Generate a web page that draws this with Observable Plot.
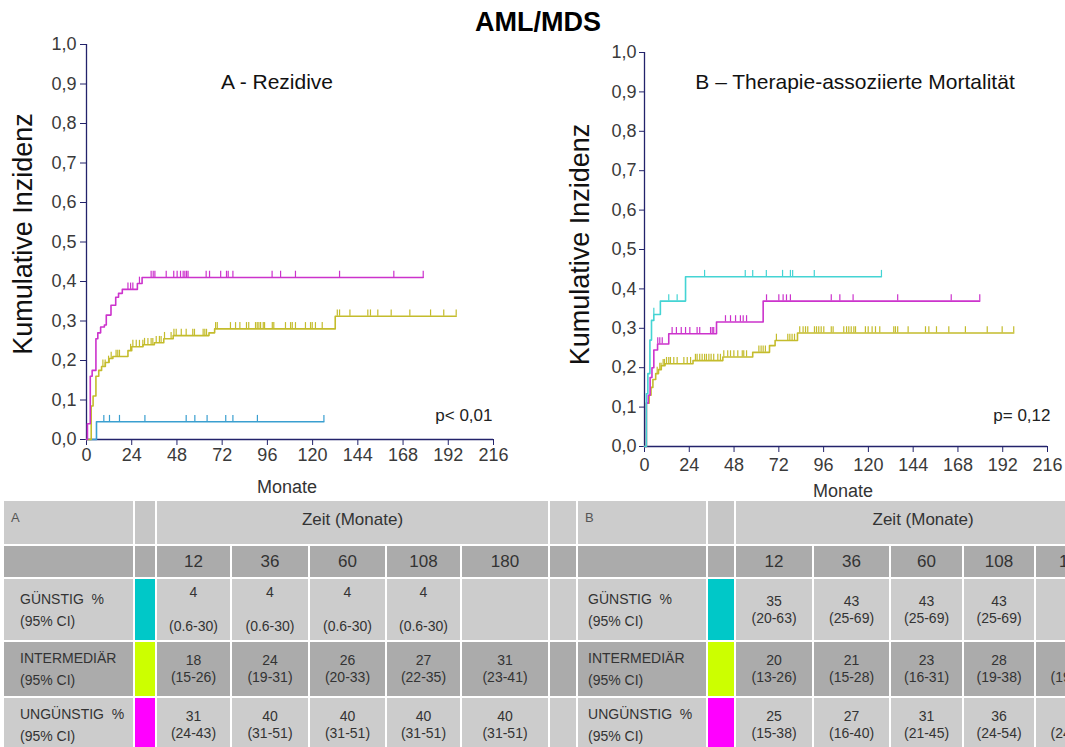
<!DOCTYPE html>
<html><head><meta charset="utf-8">
<script src="https://cdn.jsdelivr.net/npm/d3@7"></script>
<script src="https://cdn.jsdelivr.net/npm/@observablehq/plot@0.6"></script>
<style>
body{margin:0;background:#fff;font-family:"Liberation Sans",Arial,sans-serif;}
#page{position:relative;width:1065px;height:747px;overflow:hidden;background:#fff;}
#title{position:absolute;left:0;width:1076px;top:7px;text-align:center;font-weight:bold;font-size:27px;color:#000;}
#plotA{position:absolute;left:0;top:0;}
#plotB{position:absolute;left:540px;top:0;}
#tbl{position:absolute;left:2px;top:499px;border-collapse:collapse;table-layout:fixed;width:1108px;color:#333;}
#tbl td{border:2px solid #fff;padding:0;text-align:center;vertical-align:middle;font-size:14px;line-height:17px;overflow:hidden;white-space:nowrap;}
#tbl td.lab{text-align:left;padding-left:16px;line-height:22px;}
#tbl td.labB{text-align:left;padding-left:10px;line-height:22px;}
#tbl td.corner{text-align:left;vertical-align:top;padding:8px 0 0 7px;font-size:13px;color:#555;}
#tbl td.zeit{font-size:17px;padding-bottom:6px;}
#tbl td.mon{font-size:17px;}
</style></head>
<body><div id="page"><div id="title">AML/MDS</div><div id="plotA"></div><div id="plotB"></div><table id="tbl"></table></div>
<script>
// ---------- axes ----------
const xTicks = [0, 24, 48, 72, 96, 120, 144, 168, 192, 216];
const yTicks = [0, 0.1, 0.2, 0.3, 0.4, 0.5, 0.6, 0.7, 0.8, 0.9, 1.0];

// ---------- A - Rezidive ----------
const A_guen_t = [5.3];
const A_guen_v = [0.045];
const A_guen_end = 126;
const A_guen_cens = [9.2, 12.2, 17.5, 31, 52.9, 57.5, 64, 73.9, 77.7, 90.7, 126];

const A_int_t = [2.5, 3.5, 5, 6.5, 8, 10, 12, 14, 22, 24, 30, 36, 41, 46, 65, 68, 132];
const A_int_v = [0.085, 0.11, 0.16, 0.175, 0.185, 0.195, 0.205, 0.21, 0.225, 0.235, 0.24, 0.245, 0.255, 0.263, 0.27, 0.28, 0.312];
const A_int_end = 196.2;
const A_int_cens = [8.7, 9.9, 11.7, 13.1, 15.7, 16.6, 17.5, 23.4, 24.6, 26.4, 28.1, 29.9, 30.8, 32.6, 34.3, 35.2, 37, 38.7, 39.6, 41.4, 44.9, 46.4, 47.6, 50.3, 52.9, 56.4, 57.3, 61.9, 62.8, 63.7, 68.5, 69.4, 76.4, 79.1, 81.4, 84.9, 86.1, 89.7, 90.6, 91.5, 92.4, 93.8, 94.5, 98.6, 99.4, 105.6, 108.3, 109.2, 110.9, 116.2, 118.9, 119.8, 121.5, 125.1, 133.1, 134.3, 139.8, 149.3, 150.7, 154.6, 161.7, 171.6, 182.6, 189.6, 196.2];

const A_ung_t = [0.5, 2, 3, 5, 6, 7.5, 9.5, 10.5, 13, 15.5, 17, 19, 27, 29.5];
const A_ung_v = [0.04, 0.16, 0.175, 0.255, 0.27, 0.285, 0.29, 0.315, 0.34, 0.36, 0.37, 0.38, 0.395, 0.41];
const A_ung_end = 178.7;
const A_ung_cens = [22, 23.4, 24.6, 28.1, 34.3, 35.4, 36.3, 42.3, 46.3, 48.1, 49.9, 51.3, 52.2, 53.1, 53.9, 63.5, 65.3, 71.2, 74.3, 75.2, 77.7, 98.5, 103, 110.9, 134.3, 163.1, 178.7];

// ---------- B - Therapie-assoziierte Mortalität ----------
const B_guen_t = [1, 1.8, 2.9, 3.75, 5, 8.5, 22];
const B_guen_v = [0.134, 0.185, 0.27, 0.32, 0.335, 0.369, 0.431];
const B_guen_end = 127;
const B_guen_cens = [5, 13, 17.5, 32.2, 54, 58, 65.3, 74, 78.2, 79.4, 91, 127];

const B_int_t = [1, 2.5, 3.5, 4.5, 6, 7.5, 9, 11, 26, 42, 58, 67, 70, 82];
const B_int_v = [0.11, 0.13, 0.15, 0.17, 0.185, 0.195, 0.205, 0.21, 0.218, 0.227, 0.239, 0.256, 0.269, 0.288];
const B_int_end = 197.9;
const B_int_cens = [6.8, 8.2, 8.9, 10, 10.7, 11.8, 13, 13.9, 15.7, 17.5, 21.1, 22.9, 24.7, 27.3, 28.2, 29.6, 30.9, 32.2, 33.2, 34.5, 35.7, 37.1, 39.3, 40.7, 42.5, 44.6, 46.1, 47.9, 50, 52.4, 53.2, 54.7, 61.3, 62.5, 63.6, 64.8, 70.7, 76.8, 77.9, 79.1, 80.4, 83.2, 85, 86.3, 87.5, 91.1, 92.2, 93.4, 94.7, 96.1, 100.1, 101.1, 106.8, 108.3, 109.5, 110.8, 112.2, 113.1, 118.4, 119.9, 122, 123.8, 126.1, 133.6, 134.5, 135.7, 141.3, 150.6, 152.4, 156.5, 163.1, 172, 183.7, 191.7, 197.9];

const B_ung_t = [1, 2, 3, 4, 5, 7, 13, 38.6, 63.6];
const B_ung_v = [0.11, 0.13, 0.175, 0.2, 0.245, 0.26, 0.286, 0.316, 0.369];
const B_ung_end = 179.7;
const B_ung_cens = [7.1, 8.2, 9.5, 14.8, 17.1, 19.7, 22, 24.3, 28.2, 29.6, 35.4, 36.3, 37.1, 43.4, 46.1, 48.8, 51.4, 52.9, 54.7, 65.4, 72, 74.3, 76.1, 78.2, 100.1, 104.7, 111.8, 135.7, 164.4, 179.7];

// ---------- table ----------
const months = ["12", "36", "60", "108", "180"];
const groupLabels = ["GÜNSTIG\u00a0\u00a0%", "INTERMEDIÄR", "UNGÜNSTIG\u00a0\u00a0%"];
const ciLabel = "(95% CI)";
const groupSwatch = ["#00c8c8", "#ccff00", "#ff00ff"];
const tabA_val = [["4", "4", "4", "4", ""], ["18", "24", "26", "27", "31"], ["31", "40", "40", "40", "40"]];
const tabA_ci = [["(0.6-30)", "(0.6-30)", "(0.6-30)", "(0.6-30)", ""], ["(15-26)", "(19-31)", "(20-33)", "(22-35)", "(23-41)"], ["(24-43)", "(31-51)", "(31-51)", "(31-51)", "(31-51)"]];
const tabB_val = [["35", "43", "43", "43", ""], ["20", "21", "23", "28", ""], ["25", "27", "31", "36", ""]];
const tabB_ci = [["(20-63)", "(25-69)", "(25-69)", "(25-69)", ""], ["(13-26)", "(15-28)", "(16-31)", "(19-38)", "(19-41)"], ["(15-38)", "(16-40)", "(21-45)", "(24-54)", "(24-54)"]];

// ---------- helpers ----------
const fmt = d => d.toFixed(1).replace(".", ",");
const axisColor = "#23236b";
function stepPoints(ts, vs, end) {
  const pts = [{t: 0, v: 0}];
  ts.forEach((t, i) => pts.push({t, v: vs[i]}));
  pts.push({t: end, v: vs[vs.length - 1]});
  return pts;
}
function valueAt(ts, vs, t) {
  let v = 0;
  ts.forEach((tt, i) => { if (tt <= t + 1e-9) v = vs[i]; });
  return v;
}
function censPoints(ts, vs, cens) {
  return cens.map(t => ({t, v: valueAt(ts, vs, t)}));
}

function kmPlot(cfg) {
  const marks = [
    Plot.axisY({ticks: yTicks, tickFormat: fmt, tickSize: cfg.yTickSize, tickPadding: cfg.yTickPad, fontSize: 18, label: null, stroke: axisColor, fill: "#3a3a3a"}),
    Plot.axisX({ticks: xTicks, tickFormat: d => String(d), tickSize: 6, tickPadding: cfg.xTickPad, fontSize: 18, label: null, stroke: axisColor, fill: "#3a3a3a"}),
    Plot.ruleX([0], {stroke: axisColor, strokeWidth: 1.3}),
    Plot.ruleY([0], {stroke: axisColor, strokeWidth: 1.3})
  ];
  for (const s of cfg.series) {
    marks.push(Plot.line(stepPoints(s.t, s.v, s.end), {x: "t", y: "v", curve: "step-after", stroke: s.color, strokeWidth: 1.6}));
    marks.push(Plot.ruleX(censPoints(s.t, s.v, s.cens), {x: "t", y1: "v", y2: d => d.v + 0.016, stroke: s.color, strokeWidth: 1.2}));
  }
  marks.push(Plot.text([cfg.title], {frameAnchor: "top", dx: cfg.titleDx, dy: cfg.titleDy, fontSize: 21, fill: "#111", lineAnchor: "middle"}));
  marks.push(Plot.text([cfg.pval], {frameAnchor: "bottom-right", textAnchor: "end", dx: cfg.pDx, dy: cfg.pDy, fontSize: 17, fill: "#222", lineAnchor: "middle"}));
  marks.push(Plot.text(["Kumulative Inzidenz"], {frameAnchor: "left", textAnchor: "middle", rotate: -90, dx: cfg.yLabDx, dy: cfg.yLabDy, fontSize: 27, fill: "#111", lineAnchor: "middle"}));
  marks.push(Plot.text(["Monate"], {frameAnchor: "bottom", textAnchor: "middle", dx: cfg.xLabDx, dy: cfg.xLabDy, fontSize: 18, fill: "#333", lineAnchor: "middle"}));
  return Plot.plot({
    width: cfg.width, height: 500,
    marginLeft: cfg.ml, marginRight: cfg.mr, marginTop: cfg.mt, marginBottom: cfg.mb,
    style: {fontFamily: "'Liberation Sans', Arial, sans-serif", background: "transparent", overflow: "visible"},
    x: {domain: [0, 216]},
    y: {domain: [0, 1]},
    marks
  });
}

document.getElementById("plotA").appendChild(kmPlot({
  width: 530, ml: 86, mr: 37, mt: 44, mb: 61,
  yTickSize: 6, yTickPad: 4, xTickPad: 3,
  title: "A - Rezidive", titleDx: -13, titleDy: 38,
  pval: "p< 0,01", pDx: -1, pDy: -24,
  yLabDx: -63, yLabDy: -8, xLabDx: -3, xLabDy: 48,
  series: [
    {t: A_guen_t, v: A_guen_v, end: A_guen_end, cens: A_guen_cens, color: "#3a9fd0"},
    {t: A_int_t, v: A_int_v, end: A_int_end, cens: A_int_cens, color: "#c4bc2c"},
    {t: A_ung_t, v: A_ung_v, end: A_ung_end, cens: A_ung_cens, color: "#cc33cc"}
  ]
}));

document.getElementById("plotB").appendChild(kmPlot({
  width: 525, ml: 104, mr: 18, mt: 52, mb: 54,
  yTickSize: 5, yTickPad: 3, xTickPad: 6,
  title: "B \u2013 Therapie-assoziierte Mortalität", titleDx: 9, titleDy: 30,
  pval: "p= 0,12", pDx: 3, pDy: -31,
  yLabDx: -64, yLabDy: -5, xLabDx: -3, xLabDy: 45,
  series: [
    {t: B_int_t, v: B_int_v, end: B_int_end, cens: B_int_cens, color: "#c4bc2c"},
    {t: B_ung_t, v: B_ung_v, end: B_ung_end, cens: B_ung_cens, color: "#cc33cc"},
    {t: B_guen_t, v: B_guen_v, end: B_guen_end, cens: B_guen_cens, color: "#44d4d4"}
  ]
}));

// ---------- build table ----------
const colW = [131, 22, 75, 78, 77, 75, 88, 28, 130, 28, 78, 77, 73, 72, 76];
const rowH = [45, 33, 63, 56, 55];
const light = "#cccccc", dark = "#ababab";
const rowBg = [light, dark, light, dark, light];
const tbl = document.getElementById("tbl");
const cg = document.createElement("colgroup");
colW.forEach(w => { const c = document.createElement("col"); c.style.width = w + "px"; cg.appendChild(c); });
tbl.appendChild(cg);
function td(tr, html, cls, bg, span) {
  const c = document.createElement("td");
  c.innerHTML = html;
  if (cls) c.className = cls;
  c.style.background = bg;
  if (span) c.colSpan = span;
  tr.appendChild(c);
  return c;
}
// header row 1
let tr = document.createElement("tr"); tr.style.height = rowH[0] + "px";
td(tr, "A", "corner", rowBg[0]); td(tr, "", "", "#c6c6c6"); td(tr, "Zeit (Monate)", "zeit", rowBg[0], 5);
td(tr, "", "", rowBg[0]);
td(tr, "B", "corner", rowBg[0]); td(tr, "", "", "#c6c6c6"); td(tr, "Zeit (Monate)", "zeit", rowBg[0], 5);
tbl.appendChild(tr);
// header row 2
tr = document.createElement("tr"); tr.style.height = rowH[1] + "px";
td(tr, "", "", rowBg[1]); td(tr, "", "", rowBg[1]);
months.forEach(m => td(tr, m, "mon", rowBg[1]));
td(tr, "", "", rowBg[1]);
td(tr, "", "", rowBg[1]); td(tr, "", "", rowBg[1]);
months.forEach(m => td(tr, m, "mon", rowBg[1]));
tbl.appendChild(tr);
// data rows
groupLabels.forEach((g, i) => {
  const r = document.createElement("tr"); r.style.height = rowH[i + 2] + "px";
  const bg = rowBg[i + 2];
  const cellHtml = (v, c) => (v === "" && c === "") ? "" : (i === 0 && v && c && c.indexOf("0.6") >= 0 ? v + "<br><br>" + c : (v || "&nbsp;") + "<br>" + c);
  td(r, g + "<br>" + ciLabel, "lab", bg);
  td(r, "", "", groupSwatch[i]);
  tabA_val[i].forEach((v, j) => td(r, cellHtml(v, tabA_ci[i][j]), "", bg));
  td(r, "", "", bg);
  td(r, g + "<br>" + ciLabel, "labB", bg);
  td(r, "", "", groupSwatch[i]);
  tabB_val[i].forEach((v, j) => td(r, cellHtml(v, tabB_ci[i][j]), "", bg));
  tbl.appendChild(r);
});
</script>
</body></html>
